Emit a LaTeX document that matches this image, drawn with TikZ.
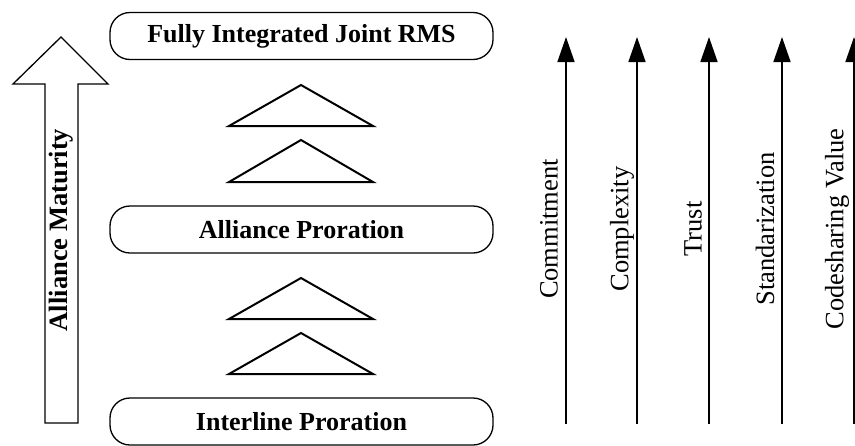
\documentclass[tikz,border=0pt]{standalone}
\usepackage{fontspec}
\setmainfont{Liberation Serif}
\usetikzlibrary{arrows.meta}
\begin{document}
\begin{tikzpicture}[x=1pt,y=-1pt,
  stage/.style={draw, line width=1.3pt, rounded corners=20pt, minimum width=383pt, minimum height=47pt, inner sep=0pt,
    font=\fontsize{26}{30}\selectfont\bfseries},
  tri/.style={draw, line width=2pt, line join=miter},
  lbl/.style={rotate=90, inner sep=0pt, font=\fontsize{26.5}{30}\selectfont},
  axis/.style={line width=1.5pt, -{Triangle[length=25pt,width=17pt]}}]
\useasboundingbox (0,0) rectangle (855,445);
% stages
\node[stage] (fij) at (301.5,36) {Fully Integrated Joint RMS};
\node[stage] (ap) at (301.5,229.5) {Alliance Proration};
\node[stage] (ip) at (301.5,421.5) {Interline Proration};
% triangles
\foreach \ya/\yb in {85/126, 140/182, 278/319, 333/374}{
  \draw[tri] (301,\ya) -- (373,\yb) -- (229,\yb) -- cycle;
}
% big arrow
\draw[line width=1.3pt, line join=miter] (61,37) -- (108,84) -- (78,84) -- (78,423) -- (45,423) -- (45,84) -- (13,84) -- cycle;
\node[lbl, font=\fontsize{26.5}{30}\selectfont\bfseries] (am) at (61,230) {Alliance Maturity};
% right arrows
\foreach \n/\x/\lx/\t in {a/566/549/Commitment, b/637/622/Complexity, c/709/693/Trust, d/782/765/Standarization, e/854/837/Codesharing Value}{
  \coordinate (\n0) at (\x,424);
  \coordinate (\n1) at (\x,37);
  \draw[axis] (\n0) -- (\n1);
  \node[lbl] (\n l) at (\lx,229) {\t};
}
\end{tikzpicture}
\end{document}
